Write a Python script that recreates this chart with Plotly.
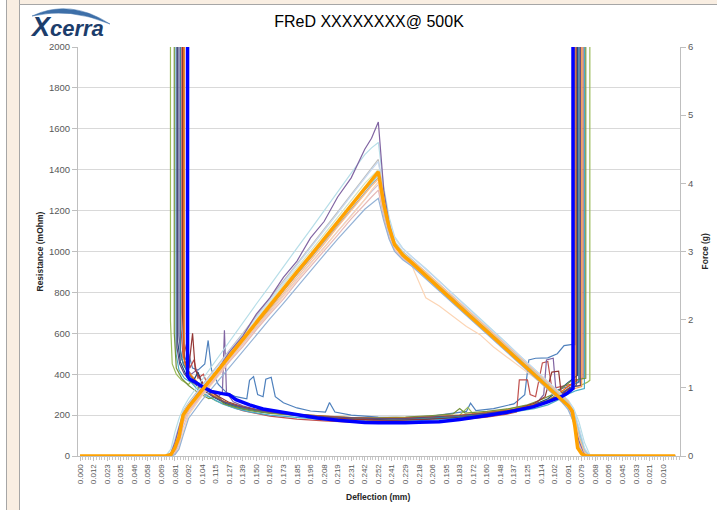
import plotly.graph_objects as go

# ---------------- data ----------------
TICK_LABELS = ["0.000", "0.012", "0.023", "0.035", "0.046", "0.058", "0.069", "0.081", "0.092",
               "0.104", "0.115", "0.127", "0.139", "0.150", "0.162", "0.173", "0.185", "0.196",
               "0.208", "0.219", "0.231", "0.242", "0.252", "0.241", "0.229", "0.218", "0.206",
               "0.195", "0.183", "0.172", "0.160", "0.148", "0.137", "0.125", "0.114", "0.102",
               "0.091", "0.079", "0.068", "0.056", "0.045", "0.033", "0.021", "0.010"]
TICK_POS = list(range(len(TICK_LABELS)))  # sample-step index of each labelled category

# Resistance (mOhm) traces: (step index, value)
RES_MAIN = [(7.93, 2300), (7.93, 390), (8.1, 375), (8.4, 365), (9.0, 340), (9.7, 315), (10.5, 305),
            (11.0, 300), (11.5, 275), (12.5, 250), (13.5, 230), (15, 212), (16.5, 195), (17.5, 186),
            (19, 175), (20, 168), (21, 164), (22, 162), (23, 160), (24, 162), (25, 165), (26.5, 168),
            (28, 178), (29, 190), (30, 198), (31.5, 214), (32.5, 226), (33.4, 240), (34.4, 262),
            (35, 275), (35.5, 290), (35.9, 305), (36.2, 322), (36.36, 330), (36.36, 2300)]

RES_R1 = [(7.6, 2300), (7.6, 540), (7.75, 470), (8.0, 500), (8.3, 430), (8.7, 420), (9.2, 450), (9.45, 565),
          (9.7, 420), (10.2, 350), (10.8, 310), (11.5, 290), (12.3, 280), (12.5, 370), (12.8, 388), (13.1, 300),
          (13.5, 290), (13.7, 375), (14.1, 385), (14.4, 290), (15, 260), (16, 235), (17, 220), (18.1, 215),
          (18.4, 262), (18.8, 215), (20, 200), (22, 190), (24, 188), (26, 195), (27, 205), (28.5, 218),
          (28.8, 258), (29.2, 222), (30.5, 232), (32, 255), (32.8, 300), (33.1, 470), (33.6, 478), (34.5, 480),
          (35.2, 500), (35.7, 540), (36.2, 545), (36.5, 545), (36.5, 2300)]
RES_R2 = [(7.45, 2300), (7.45, 620), (7.6, 480), (7.9, 560), (8.1, 430), (8.4, 470), (8.7, 380), (9.1, 400),
          (9.5, 330), (10, 300), (10.5, 270), (11, 245), (12, 222), (13, 208), (14, 195), (15, 188), (16, 180),
          (18, 172), (20, 165), (22, 160), (24, 162), (26, 168), (28, 178), (30, 190), (31.5, 205), (32.2, 215),
          (32.4, 372), (33.0, 372), (33.2, 300), (33.6, 290), (34.1, 455), (34.5, 462), (34.8, 330),
          (35.5, 340), (36.2, 350), (36.9, 380), (37.1, 380), (37.1, 2300)]
RES_R3 = [(6.67, 2300), (6.67, 660), (6.8, 450), (7.1, 400), (7.5, 370), (8, 350), (8.4, 380), (8.8, 320),
          (9.3, 300), (10, 270), (11, 245), (12, 228), (13, 217), (14, 208), (16, 198), (18, 190), (20, 186),
          (22, 182), (24, 185), (26, 192), (28, 200), (28.6, 238), (29.0, 205), (29.5, 210), (31, 222),
          (32.5, 240), (33.5, 255), (34.5, 275), (35.2, 300), (35.8, 320), (36.3, 335), (36.9, 345),
          (37.4, 360), (37.6, 370), (37.6, 2300)]
RES_R4 = [(7.3, 2300), (7.3, 590), (7.45, 480), (7.8, 430), (8.2, 400), (8.6, 420), (9, 350), (9.5, 320),
          (10.2, 290), (10.5, 310), (10.65, 615), (10.8, 310), (11.3, 265), (12, 245), (13, 228), (14, 214),
          (16, 198), (18, 185), (20, 178), (22, 172), (24, 175), (26, 182), (28, 192), (30, 205), (32, 222),
          (33.5, 245), (34.2, 300), (34.4, 470), (34.9, 478), (35.1, 320), (35.6, 330), (36.2, 345),
          (36.8, 360), (36.8, 2300)]
RES_R5 = [(7.08, 2300), (7.08, 500), (7.3, 420), (7.7, 380), (8.2, 360), (8.6, 330), (9.2, 300), (9.8, 280),
          (10.5, 255), (11.5, 232), (12.5, 216), (14, 200), (16, 188), (18, 178), (20, 172), (22, 168),
          (24, 170), (26, 176), (28, 186), (30, 198), (32, 215), (33.5, 232), (34.5, 250), (35.3, 275),
          (35.9, 300), (36.6, 320), (37.2, 330), (37.2, 2300)]
RES_R6 = [(7.7, 2300), (7.7, 450), (7.9, 420), (8.3, 390), (8.8, 350), (9.3, 340), (9.8, 300), (10.5, 265),
          (11.5, 240), (12.5, 226), (14, 212), (16, 200), (18, 192), (20, 185), (22, 180), (24, 182), (26, 188),
          (28, 196), (30, 208), (32, 225), (33.5, 245), (34.5, 265), (35.2, 290), (35.8, 310), (36.5, 330),
          (37.0, 340), (37.0, 2300)]
RES_R7 = [(7.2, 2300), (7.2, 560), (7.4, 460), (7.8, 400), (8.3, 360), (8.7, 410), (9.1, 340), (9.8, 290),
          (10.8, 255), (12, 232), (13.5, 215), (15, 205), (17, 195), (19, 186), (21, 180), (23, 176), (25, 178),
          (27, 185), (29, 196), (31, 212), (32.5, 232), (33.5, 250), (34.5, 280), (35.3, 320), (36, 360),
          (36.4, 380), (36.7, 395), (36.7, 2300)]
RES_R8 = [(6.95, 2300), (6.95, 600), (7.1, 430), (7.5, 380), (8, 345), (8.7, 310), (9.5, 280), (10.2, 290),
          (10.6, 255), (11.5, 238), (12.5, 224), (14, 210), (16, 200), (18, 193), (20, 188), (22, 186),
          (24, 190), (26, 198), (27.5, 206), (28, 232), (28.4, 210), (30, 218), (31.5, 230), (33, 250),
          (34, 275), (35, 305), (35.7, 340), (36.3, 370), (37.3, 380), (37.3, 2300)]
RES_R9 = [(7.55, 2300), (7.55, 700), (7.7, 470), (8.0, 420), (8.3, 600), (8.5, 420), (9.2, 340), (10, 300),
          (11, 262), (12, 240), (13, 226), (14.5, 212), (16, 202), (18, 190), (20, 180), (22, 175), (24, 176),
          (26, 182), (28, 192), (30, 206), (31.5, 220), (32.5, 236), (33.5, 258), (34.3, 290), (34.8, 410),
          (35.3, 415), (35.5, 300), (36.1, 330), (36.6, 345), (36.6, 2300)]
RES_R10 = [(7.4, 2300), (7.4, 520), (7.6, 450), (8.0, 400), (8.5, 365), (9.2, 320), (10, 285), (11, 255),
           (12, 235), (13.5, 218), (15, 208), (17, 198), (19, 190), (21, 185), (23, 182), (25, 184), (27, 190),
           (29, 200), (31, 215), (33, 235), (34.5, 262), (35.4, 290), (36, 310), (36.4, 350), (36.8, 365),
           (36.8, 2300)]
RES_R11 = [(7.65, 2300), (7.65, 480), (7.85, 430), (8.2, 390), (8.8, 345), (9.5, 305), (10.5, 270),
           (11.5, 248), (12.5, 232), (14, 216), (16, 204), (18, 195), (20, 188), (22, 184), (24, 186), (26, 192),
           (28, 200), (30, 212), (32, 228), (33.5, 250), (34.5, 270), (35.2, 300), (35.8, 330), (36.2, 350),
           (36.5, 355), (36.5, 2300)]
RES_R12 = [(7.15, 2300), (7.15, 530), (7.35, 450), (7.7, 400), (8.2, 365), (8.9, 330), (9.7, 295), (10.6, 265),
           (11.6, 245), (12.8, 228), (14.2, 214), (16, 203), (18, 193), (20, 187), (22, 183), (24, 184),
           (26, 190), (28, 198), (30, 210), (32, 226), (33.5, 248), (34.6, 272), (35.5, 305), (36.1, 335),
           (36.9, 345), (36.9, 2300)]

RES_SERIES = [RES_R1, RES_R2, RES_R3, RES_R4, RES_R5, RES_R6, RES_R7, RES_R8, RES_R9, RES_R10, RES_R11, RES_R12]
RES_COLORS = ["#4F81BD", "#C0504D", "#9BBB59", "#8064A2", "#4BACC6", "#F79646",
              "#1F497D", "#77933C", "#943634", "#31859C", "#E46C0A", "#5F497A"]

# Force (g) traces on a shared step grid
F_X = [0, 6.3, 6.7, 7.0, 7.3, 7.6, 8.0, 9, 10, 11, 12, 13, 14, 15, 16, 17, 18, 19, 20, 21, 21.5, 22,
       22.4, 22.8, 23.2, 23.8, 24.5, 25.5, 26.5, 27.5, 28.5, 29.5, 30.5, 31.5, 32.5, 33.5, 34.5, 35.5,
       36.0, 36.4, 36.8, 37.2, 37.6, 43.9]
F_G1 = [0, 0, 0.01, 0.08, 0.22, 0.52, 0.68, 0.93, 1.18, 1.42, 1.68, 1.93, 2.16, 2.42, 2.66, 2.90, 3.14, 3.38,
        3.62, 3.86, 3.98, 4.08, 3.62, 3.3, 3.08, 2.96, 2.85, 2.68, 2.5, 2.31, 2.13, 1.95, 1.77, 1.59, 1.41,
        1.22, 1.04, 0.86, 0.76, 0.62, 0.3, 0.05, 0, 0]
F_G2 = [0, 0, 0.03, 0.18, 0.4, 0.66, 0.78, 1.04, 1.3, 1.55, 1.8, 2.06, 2.32, 2.57, 2.82, 3.08, 3.33, 3.58,
        3.84, 4.1, 4.22, 4.35, 3.85, 3.42, 3.15, 3.0, 2.88, 2.7, 2.52, 2.34, 2.16, 1.97, 1.8, 1.62, 1.44,
        1.26, 1.07, 0.9, 0.8, 0.66, 0.4, 0.1, 0, 0]
F_G3 = [0, 0, 0.1, 0.35, 0.55, 0.7, 0.84, 1.12, 1.4, 1.68, 1.95, 2.23, 2.5, 2.78, 3.05, 3.32, 3.6, 3.87,
        4.15, 4.42, 4.52, 4.6, 3.95, 3.5, 3.22, 3.05, 2.92, 2.75, 2.56, 2.38, 2.2, 2.02, 1.83, 1.65, 1.46,
        1.28, 1.1, 0.92, 0.82, 0.7, 0.5, 0.2, 0.02, 0]
F_G4 = [0, 0, 0, 0.05, 0.15, 0.42, 0.62, 0.9, 1.15, 1.4, 1.64, 1.88, 2.12, 2.36, 2.6, 2.83, 3.06, 3.3,
        3.53, 3.76, 3.88, 3.98, 3.55, 3.25, 3.05, 2.92, 2.8, 2.62, 2.44, 2.26, 2.08, 1.9, 1.72, 1.54, 1.36,
        1.18, 1.0, 0.8, 0.7, 0.5, 0.15, 0.02, 0, 0]
F_G5 = [0, 0, 0, 0.03, 0.12, 0.35, 0.6, 0.88, 1.12, 1.38, 1.62, 1.86, 2.1, 2.35, 2.58, 2.82, 3.05, 3.3,
        3.52, 3.76, 3.9, 4.02, 3.5, 3.2, 3.05, 2.9, 2.78, 2.32, 2.2, 2.05, 1.9, 1.78, 1.6, 1.45, 1.3,
        1.15, 0.98, 0.8, 0.7, 0.52, 0.2, 0.03, 0, 0]
F_G6 = [0, 0, 0.02, 0.14, 0.32, 0.58, 0.72, 0.98, 1.24, 1.5, 1.75, 2.0, 2.26, 2.51, 2.76, 3.0, 3.25, 3.5,
        3.75, 4.0, 4.1, 4.2, 3.72, 3.38, 3.14, 2.98, 2.86, 2.68, 2.5, 2.3, 2.12, 1.94, 1.76, 1.58, 1.4,
        1.22, 1.04, 0.86, 0.76, 0.6, 0.25, 0.04, 0, 0]
F_G7 = [0, 0, 0, 0.04, 0.2, 0.48, 0.66, 0.9, 1.14, 1.38, 1.6, 1.85, 2.08, 2.3, 2.55, 2.78, 3.0, 3.24,
        3.48, 3.7, 3.8, 3.9, 3.5, 3.2, 3.02, 2.9, 2.8, 2.62, 2.45, 2.27, 2.09, 1.9, 1.72, 1.54, 1.36,
        1.18, 1.0, 0.83, 0.72, 0.56, 0.18, 0.02, 0, 0]
F_G8 = [0, 0, 0.05, 0.25, 0.46, 0.64, 0.76, 1.02, 1.27, 1.53, 1.78, 2.03, 2.29, 2.54, 2.8, 3.05, 3.3, 3.56,
        3.82, 4.08, 4.2, 4.32, 3.82, 3.45, 3.2, 3.04, 2.92, 2.74, 2.56, 2.37, 2.19, 2.0, 1.82, 1.64, 1.46,
        1.27, 1.09, 0.9, 0.8, 0.68, 0.42, 0.12, 0, 0]
F_G9 = [0, 0, 0.04, 0.2, 0.42, 0.62, 0.74, 1.0, 1.22, 1.52, 1.76, 2.08, 2.32, 2.62, 2.86, 3.2, 3.44, 3.8,
        4.08, 4.5, 4.66, 4.9, 3.9, 3.4, 3.12, 2.95, 2.82, 2.64, 2.46, 2.28, 2.1, 1.92, 1.74, 1.56, 1.38,
        1.2, 1.02, 0.84, 0.74, 0.58, 0.22, 0.03, 0, 0]
F_G10 = [0, 0, 0, 0.1, 0.26, 0.56, 0.7, 0.95, 1.2, 1.45, 1.7, 1.95, 2.2, 2.44, 2.68, 2.92, 3.17, 3.42,
         3.66, 3.9, 4.0, 4.12, 3.6, 3.28, 3.08, 2.94, 2.84, 2.66, 2.48, 2.3, 2.12, 1.94, 1.76, 1.58, 1.4,
         1.22, 1.05, 0.88, 0.78, 0.64, 0.35, 0.08, 0, 0]
F_G11 = [0, 0, 0.02, 0.1, 0.25, 0.5, 0.68, 0.92, 1.17, 1.42, 1.66, 1.9, 2.15, 2.39, 2.63, 2.87, 3.11, 3.36,
         3.6, 3.85, 3.96, 4.06, 3.62, 3.3, 3.1, 2.96, 2.86, 2.7, 2.52, 2.34, 2.16, 1.98, 1.8, 1.62, 1.44,
         1.26, 1.08, 0.9, 0.8, 0.64, 0.28, 0.05, 0, 0]
F_G12 = [0, 0, 0, 0.02, 0.1, 0.3, 0.55, 0.82, 1.06, 1.3, 1.54, 1.78, 2.01, 2.24, 2.48, 2.72, 2.95, 3.18,
         3.4, 3.62, 3.7, 3.78, 3.45, 3.18, 3.0, 2.88, 2.78, 2.6, 2.42, 2.24, 2.06, 1.88, 1.7, 1.52, 1.34,
         1.16, 0.98, 0.8, 0.68, 0.5, 0.12, 0, 0, 0]
FORCE_SERIES = [F_G1, F_G2, F_G3, F_G4, F_G5, F_G6, F_G7, F_G8, F_G9, F_G10, F_G11, F_G12]
FORCE_COLORS = ["#A6A6A6", "#BFBFBF", "#B7DEE8", "#CCC1DA", "#FCD5B5", "#D7E4BD",
                "#E6B9B8", "#C6D9F1", "#8064A2", "#93CDDD", "#FAC090", "#95B3D7"]

FORCE_MAIN = [(0, 0), (6.3, 0), (6.7, 0.02), (7.0, 0.12), (7.3, 0.28), (7.6, 0.6), (8.0, 0.72), (9, 0.97),
              (10, 1.22), (11, 1.47), (12, 1.71), (13, 1.96), (14, 2.21), (15, 2.45), (16, 2.70), (17, 2.94),
              (18, 3.19), (19, 3.44), (20, 3.68), (21, 3.93), (22, 4.17), (22.4, 3.7), (22.8, 3.35),
              (23.2, 3.1), (23.8, 2.95), (24.5, 2.83), (26.5, 2.46), (28.5, 2.1), (30.5, 1.74), (32.5, 1.37),
              (34.5, 1.01), (36.0, 0.74), (36.3, 0.66), (36.5, 0.43), (36.7, 0.12), (37.0, 0.03), (37.3, 0),
              (43.9, 0)]

# ---------------- figure ----------------
W, H = 717, 510
ML, MR, MT, MB = 78, 37, 47, 54
PW, PH = W - ML - MR, H - MT - MB


def px(x):
    return (x - ML) / PW


def py(y):
    return (H - MB - y) / PH


fig = go.Figure()

for pts, col in zip(RES_SERIES, RES_COLORS):
    xs, ys = zip(*pts)
    fig.add_trace(go.Scatter(x=xs, y=ys, mode="lines", line=dict(color=col, width=1.2),
                             yaxis="y", hoverinfo="skip"))

for vals, col in zip(FORCE_SERIES, FORCE_COLORS):
    fig.add_trace(go.Scatter(x=F_X, y=vals, mode="lines", line=dict(color=col, width=1.2),
                             yaxis="y2", hoverinfo="skip"))

xs, ys = zip(*RES_MAIN)
fig.add_trace(go.Scatter(x=xs, y=ys, mode="lines", line=dict(color="#0000FF", width=3.5), yaxis="y3"))
xs, ys = zip(*FORCE_MAIN)
fig.add_trace(go.Scatter(x=xs, y=ys, mode="lines", line=dict(color="#FFA200", width=3.5), yaxis="y4"))

tickfont = dict(family="Liberation Sans", size=9.5, color="#595959")

fig.update_layout(
    width=W, height=H, autosize=False,
    margin=dict(l=ML, r=MR, t=MT, b=MB),
    paper_bgcolor="white", plot_bgcolor="white",
    showlegend=False,
    xaxis=dict(range=[-0.15, 44.25], tickmode="array", tickvals=TICK_POS, ticktext=TICK_LABELS,
               tickangle=-90, tickfont=dict(family="Liberation Sans", size=8, color="#595959"),
               ticks="outside", ticklen=4, tickcolor="#BFBFBF", showline=True, linecolor="#BFBFBF",
               showgrid=False, zeroline=False,
               minor=dict(tickmode="linear", tick0=0, dtick=0.2, ticks="outside", ticklen=3,
                          tickcolor="#C8C8C8", showgrid=False)),
    yaxis=dict(range=[0, 2000], dtick=200, showgrid=True, gridcolor="#D9D9D9", gridwidth=1,
               showline=True, linecolor="#BFBFBF", ticks="outside", ticklen=5, tickcolor="#BFBFBF",
               tickfont=tickfont, zeroline=False),
    yaxis2=dict(overlaying="y", side="right", range=[0, 6], dtick=1, showgrid=False, showline=True,
                linecolor="#BFBFBF", ticks="outside", ticklen=5, tickcolor="#BFBFBF",
                tickfont=tickfont, zeroline=False),
    yaxis3=dict(overlaying="y", range=[0, 2000], visible=False),
    yaxis4=dict(overlaying="y", range=[0, 6], visible=False),
    title=dict(text="FReD XXXXXXXX@ 500K", x=369 / W, xref="container", xanchor="center",
               y=1 - 21 / H, yref="container", yanchor="middle",
               font=dict(family="Liberation Sans", size=16, color="#000000")),
)

annotations = [
    dict(text="<b>Resistance (mOhm)</b>", x=px(39), y=0.5, xref="paper", yref="paper", textangle=-90,
         showarrow=False, font=dict(family="Liberation Sans", size=8.5, color="#262626"),
         xanchor="center", yanchor="middle"),
    dict(text="<b>Force (g)</b>", x=px(704), y=0.5, xref="paper", yref="paper", textangle=-90,
         showarrow=False, font=dict(family="Liberation Sans", size=8.5, color="#262626"),
         xanchor="center", yanchor="middle"),
    dict(text="<b>Deflection (mm)</b>", x=px(378), y=py(497), xref="paper", yref="paper",
         showarrow=False, font=dict(family="Liberation Sans", size=8.5, color="#262626"),
         xanchor="center", yanchor="middle"),
    dict(text="<b><i><span style='font-size:27px'>X</span>cerra</i></b>", x=px(67), y=py(27),
         xref="paper", yref="paper", showarrow=False,
         font=dict(family="Liberation Sans", size=22, color="#1C3D6B"),
         xanchor="center", yanchor="middle"),
]
fig.update_layout(annotations=annotations)

# frame decorations and logo swoosh
arc = (f"M {px(32)},{py(16)} Q {px(70)},{py(-2)} {px(110)},{py(24)} "
       f"Q {px(70)},{py(7)} {px(32)},{py(16)} Z")
shapes = [
    dict(type="rect", xref="paper", yref="paper", x0=px(6.5), x1=px(19.5), y0=py(H + 2), y1=py(-2),
         fillcolor="#F9EEE2", line=dict(color="#A6A6A6", width=1), layer="below"),
    dict(type="rect", xref="paper", yref="paper", x0=px(19.5), x1=px(W + 2), y0=py(4.5), y1=py(-2),
         fillcolor="#F9EEE2", line=dict(color="#A6A6A6", width=1), layer="below"),
    dict(type="path", xref="paper", yref="paper", path=arc, fillcolor="#3D6FA8",
         line=dict(color="#3D6FA8", width=0.5)),
]
fig.update_layout(shapes=shapes)

fig.write_html("out.html", config={"displayModeBar": False},
               post_script="document.body.style.margin='0px';")
